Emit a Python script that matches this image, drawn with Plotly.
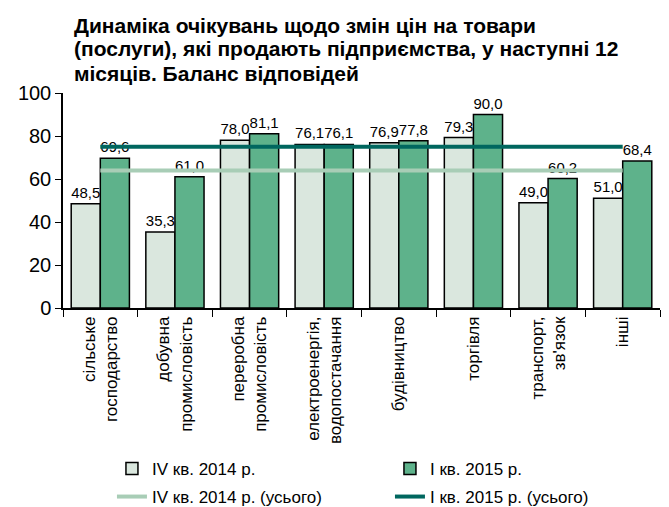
import plotly.graph_objects as go

categories = ["сільське<br>господарство", "добувна<br>промисловість", "переробна<br>промисловість",
              "електроенергія,<br>водопостачання", "будівництво", "торгівля",
              "транспорт,<br>зв'язок", "інші"]
q4_2014 = [48.5, 35.3, 78.0, 76.1, 76.9, 79.3, 49.0, 51.0]
q1_2015 = [69.6, 61.0, 81.1, 76.1, 77.8, 90.0, 60.2, 68.4]
total_q4_2014 = 64.0
total_q1_2015 = 75.0
y_ticks = [0, 20, 40, 60, 80, 100]
title_lines = ["Динаміка очікувань щодо змін цін на товари",
               "(послуги), які продають підприємства, у наступні 12",
               "місяців. Баланс відповідей"]

FONT = "Liberation Sans, Arial, sans-serif"
W, H = 669, 507

def fmt(v):
    return f"{v:.1f}".replace(".", ",")

fig = go.Figure()
fig.add_trace(go.Bar(
    x=categories, y=q4_2014, name="IV кв. 2014 р.",
    marker=dict(color="#DAE7DE", line=dict(color="black", width=1.5)),
    text=[fmt(v) for v in q4_2014], textposition="outside",
    textfont=dict(size=15, color="black"), cliponaxis=False, legend="legend"))
fig.add_trace(go.Bar(
    x=categories, y=q1_2015, name="I кв. 2015 р.",
    marker=dict(color="#5EB28B", line=dict(color="black", width=1.5)),
    text=[fmt(v) for v in q1_2015], textposition="outside",
    textfont=dict(size=15, color="black"), cliponaxis=False, legend="legend"))
fig.add_trace(go.Scatter(
    x=categories, y=[total_q4_2014] * len(categories), mode="lines",
    name="IV кв. 2014 р. (усього)", line=dict(color="#A8CDB6", width=4),
    legend="legend2"))
fig.add_trace(go.Scatter(
    x=categories, y=[total_q1_2015] * len(categories), mode="lines",
    name="I кв. 2015 р. (усього)", line=dict(color="#00675F", width=4),
    legend="legend2"))

legend_common = dict(orientation="h", xref="paper", yref="container", xanchor="left", yanchor="middle",
                     font=dict(family=FONT, size=17, color="black"), entrywidth=233,
                     bgcolor="rgba(0,0,0,0)", traceorder="normal")

title_y = [17, 41, 65]
for line, yy in zip(title_lines, title_y):
    fig.add_annotation(text=line, xref="paper", yref="paper", x=(64 - 55) / 597, y=1 + (85 - yy) / 215,
                       xanchor="left", yanchor="middle", showarrow=False,
                       font=dict(family=FONT, size=21, color="black", weight="bold"))

fig.update_layout(
    width=W, height=H,
    margin=dict(l=55, r=17, t=85, b=207, autoexpand=False),
    paper_bgcolor="white", plot_bgcolor="white",
    font=dict(family=FONT, color="black"),
    barmode="group", bargap=0.22, bargroupgap=0,
    xaxis=dict(showline=True, linecolor="black", linewidth=1.5, ticks="outside", tickson="boundaries",
               ticklen=7, tickcolor="black", tickangle=-90, tickfont=dict(family=FONT, size=17)),
    yaxis=dict(range=[0, 100], tickvals=y_ticks, showgrid=False, zeroline=False, showline=True,
               linecolor="black", linewidth=1.5, ticks="outside", ticklen=6, tickcolor="black",
               tickfont=dict(family=FONT, size=20)),
    legend=dict(x=0.082, y=1 - 461 / H, **legend_common),
    legend2=dict(x=0.082, y=1 - 489 / H, **legend_common),
    showlegend=True,
)

fig.write_html("out.html")
